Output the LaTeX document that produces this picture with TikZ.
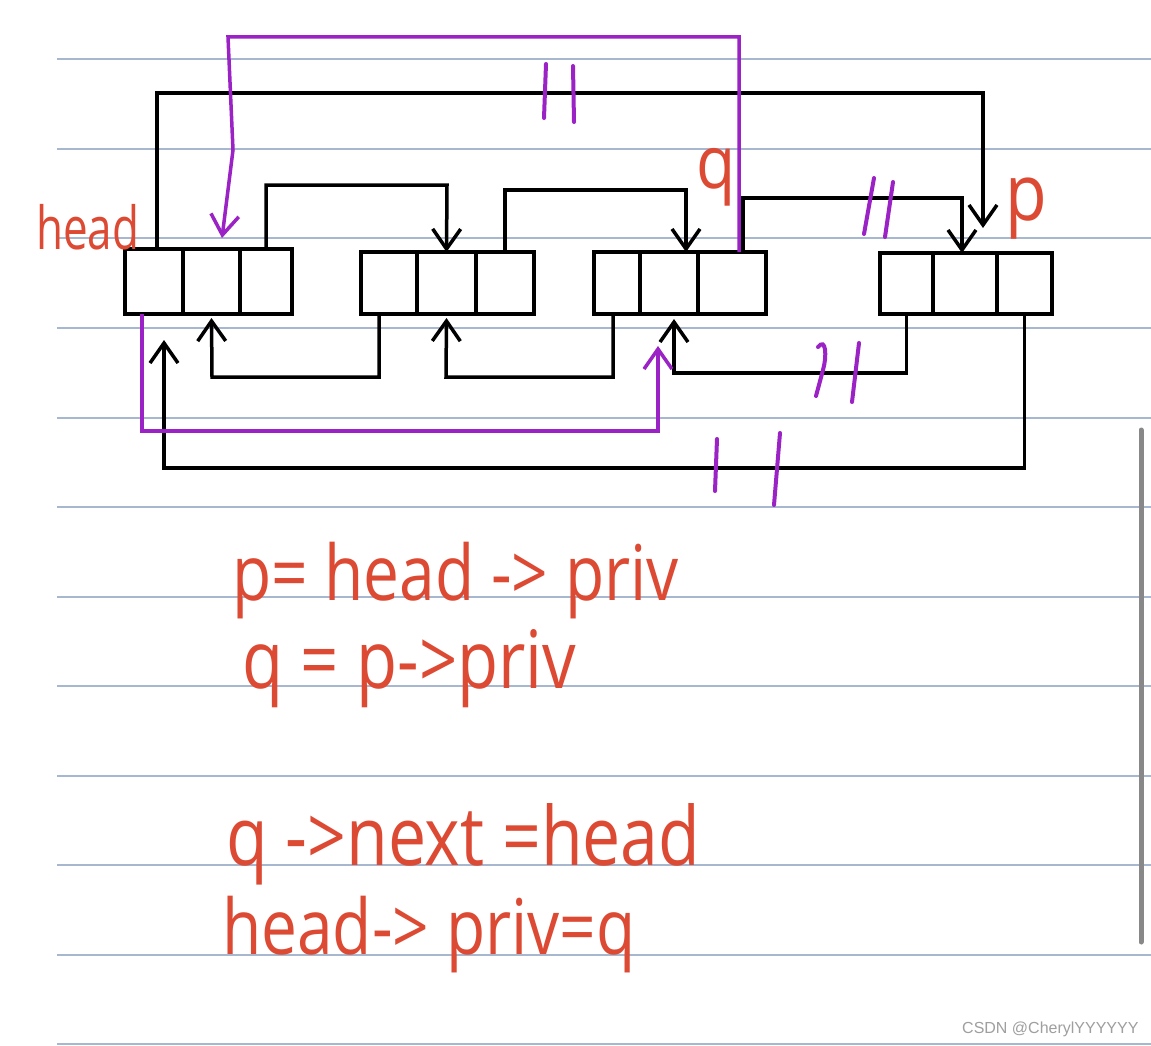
\documentclass[tikz,border=0pt]{standalone}
\usepackage{fontspec}
\setmainfont{Open Sans}
\newfontfamily\wmfont{Liberation Sans}
\usetikzlibrary{arrows.meta}
\definecolor{hwred}{HTML}{DD4A33}
\definecolor{hwpurple}{HTML}{9B22C4}
\definecolor{ruleblue}{HTML}{A8B7D0}
\definecolor{scrollgray}{HTML}{888888}
\begin{document}
\begin{tikzpicture}[x=1pt,y=-1pt,
  cell/.style={draw=black,line width=3.5pt,inner sep=0pt,outer sep=0pt,anchor=north west},
  blk/.style={draw=black,line width=3.5pt},
  pur/.style={draw=hwpurple,line width=3.5pt},
  arr/.style={-{Straight Barb[length=20pt,width=28pt]}},
  brk/.style={draw=hwpurple,line width=4pt,line cap=round},
  hw/.style={text=hwred,inner sep=0pt,anchor=base west},
  ruleline/.style={draw=ruleblue,line width=2.5pt}]
\useasboundingbox (0,0) rectangle (1151,1046);
\fill[white] (0,0) rectangle (1151,1046);
% ruled paper
\foreach \yy in {59,149,238,328,418,507,597,686,776,865,955,1044}
  \draw[ruleline] (57,\yy) -- (1151,\yy);
% scrollbar
\draw[scrollgray,line width=5pt,line cap=round] (1141,430) -- (1141,942);
% list nodes
\node[cell,minimum width=58pt,minimum height=65pt] (n1a) at (125,249) {};
\node[cell,minimum width=57pt,minimum height=65pt] (n1b) at (183,249) {};
\node[cell,minimum width=52pt,minimum height=65pt] (n1c) at (240,249) {};
\node[cell,minimum width=56pt,minimum height=62pt] (n2a) at (361,252) {};
\node[cell,minimum width=59pt,minimum height=62pt] (n2b) at (417,252) {};
\node[cell,minimum width=58pt,minimum height=62pt] (n2c) at (476,252) {};
\node[cell,minimum width=46pt,minimum height=62pt] (n3a) at (594,252) {};
\node[cell,minimum width=58pt,minimum height=62pt] (n3b) at (640,252) {};
\node[cell,minimum width=68pt,minimum height=62pt] (n3c) at (698,252) {};
\node[cell,minimum width=53pt,minimum height=61pt] (n4a) at (880,253) {};
\node[cell,minimum width=64pt,minimum height=61pt] (n4b) at (933,253) {};
\node[cell,minimum width=55pt,minimum height=61pt] (n4c) at (997,253) {};
% free ends
\coordinate (t4) at (983,228);
\coordinate (t1) at (164,340);
\coordinate (t2) at (222,238);
\coordinate (t3) at (658,346);
% black next links
\draw[blk,arr] ([xshift=3pt]n1a.north) |- (983,93) -- (t4);
\draw[blk,arr] (n1c.north) |- (447,185) -- (n2b.north);
\draw[blk,arr] (n2c.north) |- (686,190) -- ([xshift=17pt]n3b.north);
\draw[blk,arr] ([xshift=11pt]n3c.north) |- (962,198) -- ([xshift=-3pt]n4b.north);
% black prev links
\draw[blk,arr] ([xshift=-10pt]n2a.south) |- (212,377) -- ([yshift=-4pt]n1b.south);
\draw[blk,arr] ([xshift=-4pt]n3a.south) |- (446,377) -- ([yshift=-4pt]n2b.south);
\draw[blk,arr] (n4a.south) |- (674,373) -- ([xshift=5pt,yshift=-5pt]n3b.south);
\draw[blk,arr] (n4c.south) |- (164,468) -- (t1);
% purple new links
\draw[pur,arr] ([xshift=7pt]n3c.north) |- (228,37) -- (233,150) -- (t2);
\draw[pur,arr] ([xshift=-12pt]n1a.south) |- (658,431) -- (t3);
% break marks
\draw[brk] (546,64) -- (544,118);
\draw[brk] (573,66) -- (574,122);
\draw[brk] (874,178) -- (864,234);
\draw[brk] (893,182) -- (885,237);
\draw[brk] (818,347) .. controls (826,337) and (827,356) .. (823,370) -- (816,396);
\draw[brk] (859,343) -- (852,402);
\draw[brk] (717,439) -- (715,491);
\draw[brk] (780,433) -- (774,505);
% labels
\node[hw,font=\fontsize{44}{44}\selectfont,yscale=1.35] (lhead) at (36,249) {head};
\node[hw,font=\fontsize{64}{64}\selectfont,yscale=1.15] (lq) at (696,188) {q};
\node[hw,font=\fontsize{68}{68}\selectfont,yscale=1.15] (lp) at (1005,220) {p};
% code lines
\node[hw,font=\fontsize{64}{64}\selectfont,yscale=1.2] (c1) at (232,600) {p= head -> priv};
\node[hw,font=\fontsize{67}{67}\selectfont,yscale=1.2] (c2) at (242,688) {q = p->priv};
\node[hw,font=\fontsize{68}{68}\selectfont,yscale=1.2] (c3) at (226,865) {q ->next =head};
\node[hw,font=\fontsize{64}{64}\selectfont,yscale=1.2] (c4) at (222,954) {head-> priv=q};
% watermark
\node[font=\wmfont\fontsize{16}{16}\selectfont,text=gray!75,inner sep=0pt,anchor=base west] (wm) at (962,1033) {CSDN @CherylYYYYYY};
\end{tikzpicture}
\end{document}
